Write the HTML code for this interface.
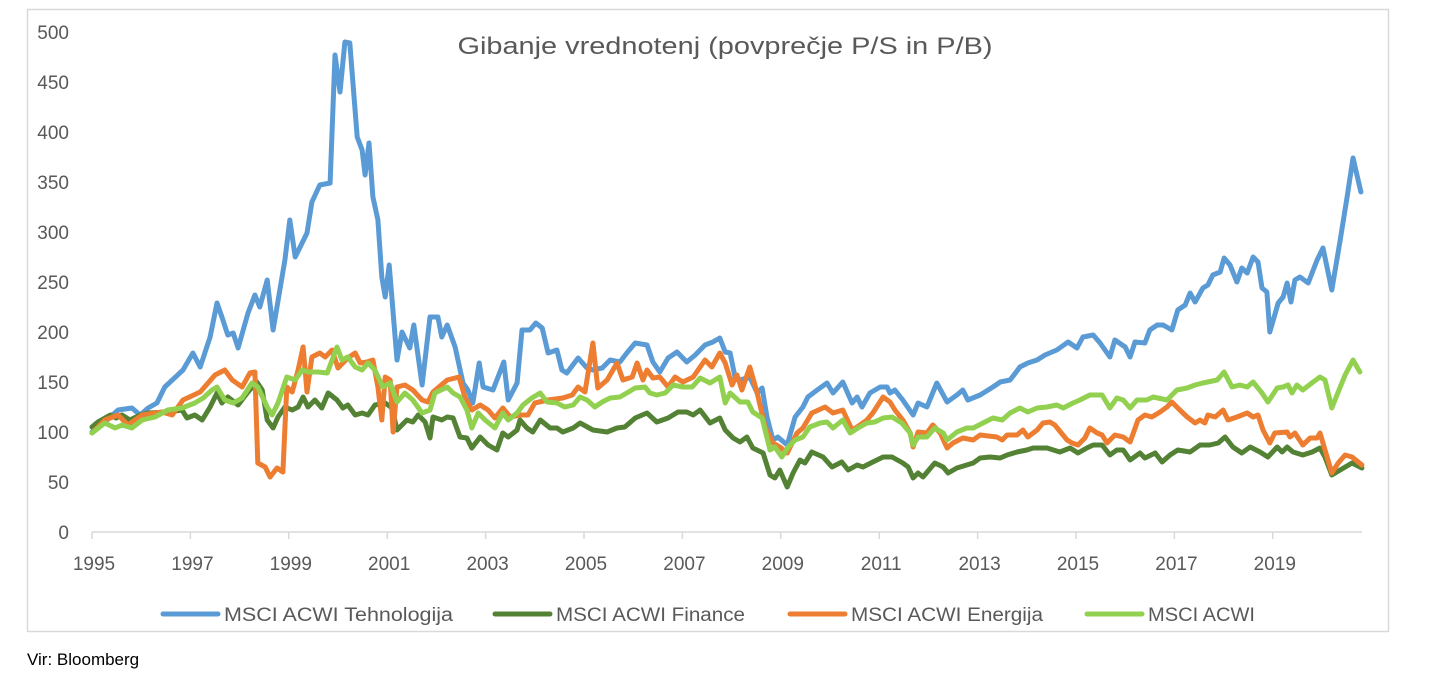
<!DOCTYPE html>
<html>
<head>
<meta charset="utf-8">
<style>
  html,body{margin:0;padding:0;background:#fff;}
  body{width:1432px;height:693px;overflow:hidden;position:relative;font-family:"Liberation Sans",Arial,sans-serif;}
  #source{position:absolute;left:27px;top:650px;font-size:17px;color:#000;}
</style>
</head>
<body>
<svg id="chart" width="1432" height="645" style="position:absolute;left:0;top:0" xmlns="http://www.w3.org/2000/svg">
  <rect x="27.5" y="9.5" width="1361" height="622" fill="#fff" stroke="#d9d9d9" stroke-width="1.5"/>
  <text x="725" y="54" text-anchor="middle" font-family="Liberation Sans, sans-serif" font-size="24" fill="#595959" textLength="535" lengthAdjust="spacingAndGlyphs">Gibanje vrednotenj (povprečje P/S in P/B)</text>
  <g id="yaxis"></g>
  <g id="xaxis"></g>
  <g id="series"></g>
  <g id="legend"></g>
</svg>
<div id="source">Vir: Bloomberg</div>
<script>
const yTicks = [0,50,100,150,200,250,300,350,400,450,500];
const xTicks = [1995,1997,1999,2001,2003,2005,2007,2009,2011,2013,2015,2017,2019];
const seriesNames = ["MSCI ACWI Tehnologija","MSCI ACWI Finance","MSCI ACWI Energija","MSCI ACWI"];
const seriesColors = ["#5b9bd5","#548235","#ed7d31","#92d050"];

const techDates = [1995.00,1995.26,1995.53,1995.81,1995.98,1996.14,1996.32,1996.48,1996.85,1997.05,1997.20,1997.40,1997.54,1997.64,1997.76,1997.87,1997.97,1998.17,1998.31,1998.41,1998.56,1998.68,1998.92,1999.02,1999.13,1999.37,1999.47,1999.63,1999.84,1999.94,2000.04,2000.14,2000.24,2000.39,2000.49,2000.55,2000.63,2000.71,2000.81,2000.89,2000.96,2001.04,2001.20,2001.30,2001.46,2001.54,2001.71,2001.87,2002.03,2002.11,2002.22,2002.38,2002.54,2002.64,2002.74,2002.87,2002.95,2003.15,2003.37,2003.46,2003.64,2003.74,2003.90,2004.02,2004.15,2004.27,2004.45,2004.55,2004.65,2004.88,2005.06,2005.18,2005.37,2005.53,2005.73,2005.87,2006.04,2006.28,2006.40,2006.54,2006.71,2006.89,2007.09,2007.26,2007.46,2007.62,2007.76,2007.87,2007.97,2008.07,2008.17,2008.37,2008.52,2008.62,2008.72,2008.84,2008.94,2009.13,2009.29,2009.45,2009.55,2009.74,2009.94,2010.06,2010.26,2010.45,2010.55,2010.65,2010.81,2011.02,2011.16,2011.22,2011.32,2011.48,2011.69,2011.79,2011.97,2012.17,2012.38,2012.58,2012.70,2012.80,2013.05,2013.31,2013.46,2013.66,2013.86,2014.02,2014.21,2014.37,2014.61,2014.84,2015.02,2015.14,2015.35,2015.49,2015.69,2015.79,2016.00,2016.10,2016.20,2016.40,2016.50,2016.65,2016.77,2016.95,2017.07,2017.22,2017.32,2017.42,2017.58,2017.68,2017.78,2017.93,2018.01,2018.13,2018.27,2018.37,2018.48,2018.60,2018.70,2018.78,2018.88,2018.94,2019.11,2019.21,2019.29,2019.37,2019.45,2019.55,2019.72,2019.90,2020.02,2020.20,2020.37,2020.51,2020.63,2020.79];
const techValues = [100,110,122,124,117,124,129,145,162,179,165,195,229,215,197,199,184,219,237,225,252,202,272,312,275,299,330,347,349,477,440,490,489,395,382,357,389,335,312,255,235,267,172,200,184,207,147,215,215,195,207,185,149,142,129,169,145,142,170,132,149,202,202,209,204,179,182,162,159,174,164,162,164,172,170,179,189,187,170,160,174,180,170,177,187,190,194,180,179,155,152,155,139,144,115,92,95,87,115,125,135,142,149,139,150,129,135,125,139,145,145,139,142,132,117,129,125,149,130,137,142,132,137,145,150,152,165,169,172,177,182,190,184,195,197,189,175,192,185,175,190,189,202,207,207,202,222,227,239,230,244,247,257,260,274,267,250,264,259,275,270,244,240,200,229,235,249,230,252,255,249,272,284,242,292,335,374,340];

const finDates = [1995.00,1995.12,1995.37,1995.49,1995.61,1995.77,1995.98,1996.14,1996.54,1996.83,1996.93,1997.09,1997.24,1997.40,1997.54,1997.64,1997.76,1997.97,1998.17,1998.35,1998.46,1998.56,1998.68,1998.78,1998.92,1999.07,1999.19,1999.29,1999.39,1999.53,1999.67,1999.80,1999.98,2000.10,2000.20,2000.35,2000.49,2000.61,2000.75,2000.96,2001.10,2001.20,2001.40,2001.52,2001.63,2001.77,2001.87,2001.93,2002.11,2002.22,2002.34,2002.48,2002.62,2002.72,2002.89,2003.05,2003.23,2003.35,2003.46,2003.64,2003.70,2003.84,2003.96,2004.11,2004.31,2004.45,2004.57,2004.78,2004.92,2005.18,2005.47,2005.67,2005.83,2006.04,2006.28,2006.48,2006.71,2006.91,2007.09,2007.22,2007.36,2007.56,2007.76,2007.87,2008.03,2008.17,2008.31,2008.43,2008.64,2008.78,2008.88,2008.98,2009.13,2009.25,2009.39,2009.49,2009.63,2009.86,2010.04,2010.24,2010.37,2010.55,2010.67,2010.87,2011.08,2011.26,2011.48,2011.59,2011.69,2011.79,2011.89,2012.13,2012.30,2012.40,2012.58,2012.91,2013.05,2013.25,2013.46,2013.60,2013.80,2014.00,2014.13,2014.41,2014.67,2014.88,2015.04,2015.22,2015.35,2015.53,2015.69,2015.83,2015.96,2016.10,2016.30,2016.40,2016.61,2016.75,2016.91,2017.07,2017.32,2017.52,2017.72,2017.89,2018.03,2018.19,2018.37,2018.54,2018.74,2018.90,2019.09,2019.19,2019.29,2019.41,2019.61,2019.80,2019.96,2020.06,2020.20,2020.37,2020.61,2020.81];
const finValues = [105,110,117,114,117,112,117,119,120,122,114,117,112,125,139,129,135,127,140,150,142,112,104,115,125,122,125,135,125,132,124,139,132,124,127,117,119,117,127,129,124,102,112,110,117,110,94,115,112,115,114,95,94,84,95,87,82,99,95,102,112,104,100,112,104,104,100,104,109,102,100,104,105,114,119,110,114,120,120,117,122,109,114,102,94,90,95,84,79,57,54,62,45,59,72,69,80,75,65,70,62,67,65,70,75,75,69,65,54,59,55,69,65,59,64,69,74,75,74,77,80,82,84,84,80,84,79,84,87,87,77,82,82,72,79,74,79,70,77,82,80,87,87,89,95,85,79,85,80,75,85,80,85,80,77,80,84,75,57,62,69,64];

const enDates = [1995.00,1995.26,1995.53,1995.73,1996.02,1996.42,1996.63,1996.85,1997.20,1997.50,1997.70,1997.85,1998.05,1998.21,1998.31,1998.37,1998.52,1998.62,1998.76,1998.88,1998.96,1999.07,1999.19,1999.29,1999.37,1999.47,1999.63,1999.74,1999.88,2000.00,2000.20,2000.35,2000.45,2000.59,2000.71,2000.81,2000.89,2000.96,2001.06,2001.12,2001.20,2001.36,2001.52,2001.71,2001.83,2001.93,2002.22,2002.46,2002.58,2002.72,2002.89,2003.05,2003.19,2003.35,2003.50,2003.70,2003.86,2004.00,2004.27,2004.57,2004.76,2004.88,2005.02,2005.18,2005.28,2005.47,2005.67,2005.79,2005.98,2006.08,2006.20,2006.28,2006.40,2006.54,2006.71,2006.85,2007.01,2007.22,2007.46,2007.60,2007.76,2007.87,2008.01,2008.11,2008.21,2008.37,2008.52,2008.68,2008.84,2008.98,2009.13,2009.33,2009.45,2009.63,2009.90,2010.06,2010.26,2010.45,2010.55,2010.75,2010.87,2011.08,2011.22,2011.32,2011.48,2011.63,2011.69,2011.79,2011.97,2012.09,2012.24,2012.38,2012.50,2012.70,2012.91,2013.05,2013.39,2013.50,2013.60,2013.80,2013.92,2014.02,2014.21,2014.33,2014.47,2014.57,2014.82,2014.92,2015.04,2015.18,2015.28,2015.43,2015.53,2015.63,2015.79,2015.96,2016.10,2016.26,2016.40,2016.54,2016.71,2016.85,2016.95,2017.11,2017.26,2017.42,2017.52,2017.62,2017.68,2017.83,2017.99,2018.09,2018.27,2018.48,2018.60,2018.70,2018.80,2018.94,2019.04,2019.29,2019.35,2019.45,2019.61,2019.76,2019.90,2019.96,2020.06,2020.20,2020.33,2020.47,2020.61,2020.81];
const enValues = [99,112,117,107,117,120,117,132,140,157,162,152,145,159,160,69,65,55,64,60,145,140,162,185,140,175,179,175,182,164,174,179,169,170,172,145,112,155,152,100,145,147,142,132,130,140,152,155,135,122,127,122,114,124,115,117,117,129,132,134,137,145,140,189,144,152,169,152,155,169,152,162,154,155,145,155,150,155,172,165,179,169,147,157,142,165,139,105,89,85,79,99,104,119,125,119,122,102,105,112,119,135,130,122,112,99,85,100,99,107,99,84,89,94,92,97,95,92,97,97,102,95,102,109,110,107,92,89,87,94,104,99,97,89,97,95,90,112,117,115,120,125,130,122,115,109,112,109,117,115,122,112,115,119,115,117,102,89,99,100,95,99,87,94,94,99,82,59,69,77,75,67];

const acwiDates = [1995.00,1995.26,1995.47,1995.61,1995.81,1996.02,1996.28,1996.54,1996.83,1997.09,1997.26,1997.44,1997.54,1997.70,1997.87,1998.05,1998.25,1998.37,1998.56,1998.66,1998.78,1998.96,1999.13,1999.27,1999.39,1999.59,1999.78,1999.88,1999.98,2000.08,2000.20,2000.35,2000.49,2000.61,2000.75,2000.91,2001.06,2001.20,2001.36,2001.52,2001.71,2001.87,2001.97,2002.22,2002.34,2002.48,2002.62,2002.72,2002.85,2002.99,2003.19,2003.35,2003.46,2003.64,2003.76,2003.94,2004.11,2004.25,2004.45,2004.61,2004.78,2004.92,2005.06,2005.22,2005.37,2005.53,2005.73,2005.87,2006.04,2006.24,2006.34,2006.48,2006.65,2006.81,2007.01,2007.20,2007.36,2007.56,2007.76,2007.87,2007.97,2008.17,2008.33,2008.43,2008.62,2008.78,2008.88,2009.02,2009.15,2009.29,2009.45,2009.59,2009.80,2009.94,2010.06,2010.26,2010.41,2010.57,2010.75,2010.91,2011.08,2011.26,2011.46,2011.63,2011.69,2011.79,2011.97,2012.13,2012.30,2012.38,2012.58,2012.78,2012.91,2013.11,2013.31,2013.50,2013.66,2013.86,2014.02,2014.21,2014.41,2014.61,2014.74,2014.94,2015.08,2015.28,2015.53,2015.69,2015.83,2015.96,2016.10,2016.24,2016.44,2016.57,2016.85,2017.05,2017.26,2017.42,2017.58,2017.87,2018.01,2018.17,2018.33,2018.48,2018.60,2018.78,2018.90,2019.09,2019.21,2019.31,2019.39,2019.49,2019.61,2019.82,2019.96,2020.06,2020.20,2020.33,2020.47,2020.63,2020.77];
const acwiValues = [99,109,104,107,104,112,115,122,124,129,134,142,145,132,129,134,149,145,125,117,129,155,152,162,160,160,159,172,185,172,175,165,162,169,162,145,149,130,139,132,119,122,139,145,139,135,122,104,119,112,104,119,112,119,127,134,139,130,129,125,127,135,132,125,130,134,135,139,144,145,139,137,139,147,145,145,154,149,155,129,139,130,130,120,114,82,85,75,85,92,95,105,109,110,104,112,99,104,109,110,114,115,109,99,87,95,95,104,99,92,100,104,104,109,114,112,119,124,120,124,125,127,124,129,132,137,137,124,134,132,124,132,132,135,132,142,144,147,149,152,160,145,147,145,150,139,130,144,145,147,139,147,142,150,155,152,124,140,157,172,160];

const NS = "http://www.w3.org/2000/svg";
const plot = {x0:92, year0:1995, pxPerYear:49.2, y0:532, pxPerUnit:1.0};
function xScale(year){ return plot.x0 + (year - plot.year0) * plot.pxPerYear; }
function yScale(v){ return plot.y0 - v * plot.pxPerUnit; }

const yaxis = document.getElementById('yaxis');
yTicks.forEach(function(t){
  const el = document.createElementNS(NS,'text');
  
  
  el.setAttribute('x', 69);
  el.setAttribute('y', yScale(t) + 7);
  el.setAttribute('text-anchor','end');
  el.setAttribute('font-size','19');
  el.setAttribute('fill','#595959');
  el.setAttribute('font-family','Liberation Sans, sans-serif');
  el.textContent = t;
  yaxis.appendChild(el);
});

const xaxis = document.getElementById('xaxis');
const axisLine = document.createElementNS(NS,'line');


axisLine.setAttribute('x1', xScale(1995)); axisLine.setAttribute('x2', 1362);
axisLine.setAttribute('y1', yScale(0)); axisLine.setAttribute('y2', yScale(0));
axisLine.setAttribute('stroke','#d9d9d9'); axisLine.setAttribute('stroke-width','1.5');
xaxis.appendChild(axisLine);
xTicks.forEach(function(t){
  const tk = document.createElementNS(NS,'line');
  
  
  tk.setAttribute('x1', xScale(t)); tk.setAttribute('x2', xScale(t));
  tk.setAttribute('y1', yScale(0)); tk.setAttribute('y2', yScale(0)+7);
  tk.setAttribute('stroke','#d9d9d9'); tk.setAttribute('stroke-width','1.5');
  xaxis.appendChild(tk);
  const el = document.createElementNS(NS,'text');
  
  
  el.setAttribute('x', xScale(t) + 2);
  el.setAttribute('y', 570);
  el.setAttribute('text-anchor','middle');
  el.setAttribute('font-size','19');
  el.setAttribute('fill','#595959');
  el.setAttribute('font-family','Liberation Sans, sans-serif');
  el.textContent = t;
  xaxis.appendChild(el);
});

const seriesDates = [techDates, finDates, enDates, acwiDates];
const seriesValues = [techValues, finValues, enValues, acwiValues];
const seriesKeys = ['tech-line','finance-line','energy-line','acwi-line'];
const sg = document.getElementById('series');
for (let s = 0; s < 4; s++){
  const d = seriesDates[s], v = seriesValues[s];
  let pts = [];
  for (let i = 0; i < d.length && i < v.length; i++){
    pts.push(xScale(d[i]).toFixed(1) + ',' + yScale(v[i]).toFixed(1));
  }
  const pl = document.createElementNS(NS,'polyline');
  
  
  pl.setAttribute('points', pts.join(' '));
  pl.setAttribute('fill','none');
  pl.setAttribute('stroke', seriesColors[s]);
  pl.setAttribute('stroke-width','5');
  pl.setAttribute('stroke-linejoin','round');
  pl.setAttribute('stroke-linecap','round');
  sg.appendChild(pl);
}

const legend = document.getElementById('legend');
const legendLineX = [163, 495, 790, 1087];
const legendTextW = [229, 189, 192, 107];
for (let s = 0; s < 4; s++){
  const ln = document.createElementNS(NS,'line');
  
  
  ln.setAttribute('x1', legendLineX[s]); ln.setAttribute('x2', legendLineX[s] + 55);
  ln.setAttribute('y1', 614); ln.setAttribute('y2', 614);
  ln.setAttribute('stroke', seriesColors[s]); ln.setAttribute('stroke-width','5');
  ln.setAttribute('stroke-linecap','round');
  legend.appendChild(ln);
  const tx = document.createElementNS(NS,'text');
  
  
  tx.setAttribute('x', legendLineX[s] + 61);
  tx.setAttribute('y', 621);
  tx.setAttribute('font-size','19');
  tx.setAttribute('fill','#595959');
  tx.setAttribute('font-family','Liberation Sans, sans-serif');
  tx.setAttribute('textLength', legendTextW[s]);
  tx.setAttribute('lengthAdjust','spacingAndGlyphs');
  tx.textContent = seriesNames[s];
  legend.appendChild(tx);
}
</script>
</body>
</html>
